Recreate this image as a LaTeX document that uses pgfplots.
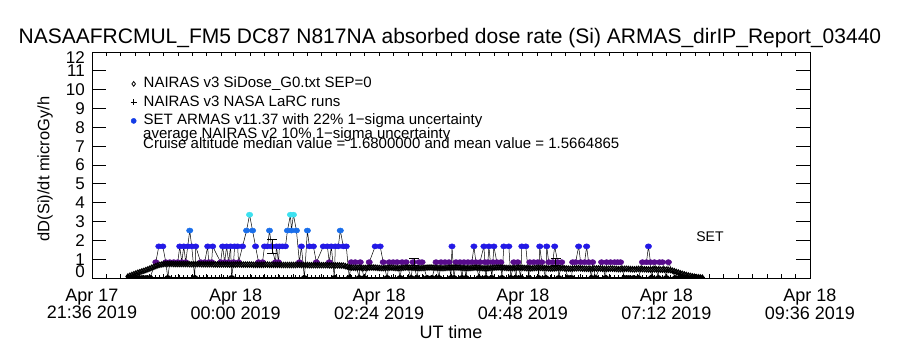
\documentclass[border=0pt]{standalone}
\usepackage{fontspec}
\setmainfont{Liberation Sans}
\usepackage{pgfplots}
\usepackage{pgfplotstable}
\pgfplotsset{compat=1.18}
\definecolor{armasP}{RGB}{88,12,140}
\definecolor{armasB}{RGB}{35,25,230}
\definecolor{armasA}{RGB}{25,110,235}
\definecolor{armasC}{RGB}{60,225,240}
\definecolor{legblue}{RGB}{20,60,230}
\newcommand{\titlefont}{\fontsize{21}{24}\selectfont}
\newcommand{\labfont}{\fontsize{18}{16}\selectfont}
\newcommand{\ylabfont}{\fontsize{16.5}{16}\selectfont}
\newcommand{\ytfont}{\fontsize{17}{17}\selectfont}
\newcommand{\legfont}{\fontsize{15}{16}\selectfont}

% ARMAS dose rate: t = minutes since Apr 17 21:36 UT, v = microGy/h, c = colour class
\pgfplotstableread{
t v c
38 0 z
42 0 z
46 0 z
50 0 z
54 0 z
58 0 z
64 0.84 p
67 1.68 b
71 1.68 b
74 0.84 p
76 0 z
78 0.84 p
82 0.84 p
86 0.84 p
88 1.68 b
90 0.84 p
92 1.68 b
94 0.84 p
96 1.68 b
98 2.52 a
100 1.68 b
103 0 z
104 1.68 b
109 0.84 p
113 0.84 p
116 1.68 b
117 0.84 p
120 0.84 p
121 1.68 b
129 0.84 p
131 1.68 b
133 0.84 p
135 1.68 b
137 0.84 p
139 1.68 b
140 0 z
142 0.84 p
143 1.68 b
146 1.68 b
147 0.84 p
151 1.68 b
155 2.52 a
158 3.36 c
161 2.52 a
164 1.68 b
167 0.84 p
171 0.84 p
173 1.68 b
176 1.68 b
178 2.52 a
180 1.68 b
184 0.84 p
185 1.68 b
187 0.84 p
188 1.68 b
191 1.68 b
194 1.68 b
196 2.52 a
199 3.36 c
200 2.52 a
202 3.36 c
205 2.52 a
208 0.84 p
210 1.68 b
213 0 z
216 2.52 a
218 1.68 b
222 1.68 b
225 0.84 p
232 1.68 b
236 1.68 b
238 0.84 p
240 1.68 b
243 0 z
244 1.68 b
247 1.68 b
249 2.52 a
252 1.68 b
255 1.68 b
258 0 z
260 0.84 p
264 0.84 p
268 0 z
269 0.84 p
273 0 z
278 0.84 p
284 1.68 b
289 1.68 b
292 0.84 p
296 0 z
298 0.84 p
302 0.84 p
306 0.84 p
309 0 z
311 0.84 p
315 0.84 p
320 0 z
322 0.84 p
326 0 z
328 0.84 p
331 0.84 p
336 0 z
341 0 z
345 0.84 p
348 0 z
350 0.84 p
354 0.84 p
358 0.84 p
360 0 z
361 1.68 b
363 0 z
365 0.84 p
369 0.84 p
371 0 z
373 0.84 p
375 0 z
377 0.84 p
381 0.84 p
383 1.68 b
385 0.84 p
388 0 z
389 0.84 p
393 1.68 b
394 0.84 p
395 0 z
397 0.84 p
398 1.68 b
401 0 z
402 0.84 p
403 1.68 b
406 0.84 p
410 0.84 p
411 0 z
413 1.68 b
418 1.68 b
420 0 z
423 0.84 p
425 0 z
427 0.84 p
430 0 z
431 1.68 b
435 1.68 b
438 0 z
439 0.84 p
443 0.84 p
447 0.84 p
448 0 z
449 1.68 b
451 0.84 p
455 0 z
456 1.68 b
458 0.84 p
462 0.84 p
464 1.68 b
467 0.84 p
468 0 z
471 0.84 p
478 0 z
481 0 z
482 0.84 p
485 0.84 p
488 1.68 b
490 0.84 p
494 0.84 p
496 1.68 b
498 0.84 p
501 0 z
502 0.84 p
505 0 z
511 0.84 p
515 0 z
516 0.84 p
520 0.84 p
524 0.84 p
527 0.84 p
530 0.84 p
534 0 z
538 0 z
543 0 z
548 0 z
552 0.84 p
556 0.84 p
558 1.68 b
560 0.84 p
561 0 z
564 0.84 p
568 0 z
569 0.84 p
572 0.84 p
576 0 z
578 0.84 p
585 0 z
589 0 z
593 0 z
597 0 z
601 0 z
605 0 z
609 0 z
}\armas

% NAIRAS v3 SiDose G0 model along the flight
\pgfplotstableread{
t v
36 0.08
38 0.12
40 0.16
42 0.20
44 0.24
46 0.28
48 0.31
50 0.35
52 0.38
54 0.42
56 0.46
58 0.50
60 0.55
62 0.59
64 0.63
66 0.67
68 0.70
70 0.72
72 0.74
74 0.75
76 0.75
78 0.75
80 0.75
82 0.74
84 0.74
86 0.74
88 0.74
90 0.74
92 0.74
94 0.74
96 0.74
98 0.73
100 0.73
102 0.73
104 0.73
106 0.74
108 0.74
110 0.73
112 0.73
114 0.73
116 0.73
118 0.73
120 0.73
122 0.72
124 0.72
126 0.72
128 0.72
130 0.72
132 0.72
134 0.72
136 0.72
138 0.71
140 0.71
142 0.71
144 0.71
146 0.72
148 0.72
150 0.71
152 0.71
154 0.71
156 0.71
158 0.71
160 0.71
162 0.70
164 0.70
166 0.70
168 0.70
170 0.70
172 0.70
174 0.71
176 0.71
178 0.70
180 0.70
182 0.70
184 0.70
186 0.70
188 0.70
190 0.69
192 0.69
194 0.69
196 0.69
198 0.69
200 0.69
202 0.69
204 0.69
206 0.70
208 0.70
210 0.69
212 0.69
214 0.69
216 0.69
218 0.68
220 0.68
222 0.68
224 0.68
226 0.68
228 0.68
230 0.68
232 0.68
234 0.68
236 0.68
238 0.67
240 0.67
242 0.67
244 0.67
246 0.67
248 0.67
250 0.66
252 0.66
254 0.63
256 0.60
258 0.57
260 0.55
262 0.545
264 0.54
266 0.54
268 0.55
270 0.54
272 0.53
274 0.535
276 0.54
278 0.55
280 0.56
282 0.555
284 0.55
286 0.54
288 0.53
290 0.525
292 0.52
294 0.53
296 0.54
298 0.545
300 0.55
302 0.54
304 0.53
306 0.525
308 0.52
310 0.53
312 0.54
314 0.55
316 0.56
318 0.555
320 0.55
322 0.54
324 0.53
326 0.525
328 0.52
330 0.525
332 0.53
334 0.54
336 0.55
338 0.555
340 0.56
342 0.55
344 0.54
346 0.535
348 0.53
350 0.525
352 0.52
354 0.53
356 0.54
358 0.545
360 0.55
362 0.555
364 0.56
366 0.555
368 0.55
370 0.54
372 0.53
374 0.525
376 0.52
378 0.525
380 0.53
382 0.54
384 0.55
386 0.545
388 0.54
390 0.53
392 0.52
394 0.515
396 0.51
398 0.52
400 0.53
402 0.54
404 0.55
406 0.555
408 0.56
410 0.555
412 0.55
414 0.54
416 0.53
418 0.525
420 0.52
422 0.525
424 0.53
426 0.54
428 0.55
430 0.545
432 0.54
434 0.53
436 0.52
438 0.515
440 0.51
442 0.52
444 0.53
446 0.535
448 0.54
450 0.535
452 0.53
454 0.525
456 0.52
458 0.51
460 0.50
462 0.505
464 0.51
466 0.52
468 0.53
470 0.525
472 0.52
474 0.51
476 0.50
478 0.495
480 0.49
482 0.50
484 0.51
486 0.515
488 0.52
490 0.51
492 0.50
494 0.495
496 0.49
498 0.485
500 0.48
502 0.49
504 0.50
506 0.505
508 0.51
510 0.50
512 0.49
514 0.485
516 0.48
518 0.49
520 0.50
522 0.495
524 0.49
526 0.48
528 0.47
530 0.475
532 0.48
534 0.485
536 0.49
538 0.48
540 0.47
542 0.465
544 0.46
546 0.47
548 0.48
550 0.475
552 0.47
554 0.465
556 0.46
558 0.455
560 0.45
562 0.455
564 0.46
566 0.455
568 0.45
570 0.445
572 0.44
574 0.44
576 0.44
578 0.43
580 0.42
582 0.39
584 0.36
586 0.32
588 0.29
590 0.25
592 0.22
594 0.19
596 0.16
598 0.13
600 0.11
602 0.09
604 0.07
606 0.05
608 0.04
610 0.03
612 0.02
}\nairas

% NAIRAS v3 NASA LaRC runs (zero along the flight)
\pgfplotstableread{
t v
36 0.03
40 0.03
44 0.03
48 0.03
52 0.03
56 0.03
60 0.03
64 0.03
68 0.03
72 0.03
76 0.03
80 0.03
84 0.03
88 0.03
92 0.03
96 0.03
100 0.03
104 0.03
108 0.03
112 0.03
116 0.03
120 0.03
124 0.03
128 0.03
132 0.03
136 0.03
140 0.03
144 0.03
148 0.03
152 0.03
156 0.03
160 0.03
164 0.03
168 0.03
172 0.03
176 0.03
180 0.03
184 0.03
188 0.03
192 0.03
196 0.03
200 0.03
204 0.03
208 0.03
212 0.03
216 0.03
220 0.03
224 0.03
228 0.03
232 0.03
236 0.03
240 0.03
244 0.03
248 0.03
252 0.03
256 0.03
260 0.03
264 0.03
268 0.03
272 0.03
276 0.03
280 0.03
284 0.03
288 0.03
292 0.03
296 0.03
300 0.03
304 0.03
308 0.03
312 0.03
316 0.03
320 0.03
324 0.03
328 0.03
332 0.03
336 0.03
340 0.03
344 0.03
348 0.03
352 0.03
356 0.03
360 0.03
364 0.03
368 0.03
372 0.03
376 0.03
380 0.03
384 0.03
388 0.03
392 0.03
396 0.03
400 0.03
404 0.03
408 0.03
412 0.03
416 0.03
420 0.03
424 0.03
428 0.03
432 0.03
436 0.03
440 0.03
444 0.03
448 0.03
452 0.03
456 0.03
460 0.03
464 0.03
468 0.03
472 0.03
476 0.03
480 0.03
484 0.03
488 0.03
492 0.03
496 0.03
500 0.03
504 0.03
508 0.03
512 0.03
516 0.03
520 0.03
524 0.03
528 0.03
532 0.03
536 0.03
540 0.03
544 0.03
548 0.03
552 0.03
556 0.03
560 0.03
564 0.03
568 0.03
572 0.03
576 0.03
580 0.03
584 0.03
588 0.03
592 0.03
596 0.03
600 0.03
604 0.03
608 0.03
612 0.03
}\larc

\pgfplotsset{
  frameaxis/.style={
    at={(92pt,72pt)}, anchor=south west,
    width=718pt, height=226pt, scale only axis,
    xmin=0, xmax=720, ymin=0, ymax=12,
    axis line style={line width=0.8pt, black},
    tick style={line width=0.8pt, black},
  }
}

\begin{document}
\begin{tikzpicture}[x=1pt,y=1pt]
\path[use as bounding box] (0,0) rectangle (900,350);
% y ticks (long) on a frame-only axis
\begin{axis}[frameaxis,
  xtick=\empty,
  major tick length=14pt,
  ytick={0,1,2,3,4,5,6,7,8,9,10,11,12},
  yticklabels={,1,2,3,4,5,6,7,8,9,10,11,},
  yticklabel style={font=\ytfont, inner sep=0pt, xshift=-7pt},
]
\end{axis}
% data axis with short x ticks
\begin{axis}[frameaxis,
  ytick=\empty,
  xtick={0,144,288,432,576,720},
  xticklabels={{Apr 17\\21:36 2019},{Apr 18\\00:00 2019},{Apr 18\\02:24 2019},{Apr 18\\04:48 2019},{Apr 18\\07:12 2019},{Apr 18\\09:36 2019}},
  minor x tick num=9,
  major tick length=4pt,
  minor tick length=4pt,
  xticklabel style={align=center, font=\labfont, inner sep=0pt, yshift=-11pt},
  clip marker paths=true,
  legend style={at={(0.0536,0.894)}, anchor=north west, draw=none, fill=none,
    inner sep=0pt, row sep=3pt, column sep=6pt, font=\legfont,
    nodes={inner sep=1pt, text height=10.5pt, text depth=3pt}},
  legend cell align=left,
  legend image code/.code={\draw[#1] plot coordinates {(0pt,0pt)};},
]
% ARMAS connecting line
\addplot[black, line width=0.5pt, mark=none, forget plot] table[x=t, y=v] {\armas};
% ARMAS coloured points
\addplot[scatter, only marks, scatter src=explicit symbolic, mark=*, forget plot,
  mark options={xscale=1.25},
  scatter/classes={
    z={mark=*, mark size=2.6pt, draw=black, fill=black},
    p={mark=*, mark size=2.6pt, draw=armasP, fill=armasP},
    b={mark=*, mark size=2.6pt, draw=armasB, fill=armasB},
    a={mark=*, mark size=2.6pt, draw=armasA, fill=armasA},
    c={mark=*, mark size=2.6pt, draw=armasC, fill=armasC}}]
  table[x=t, y=v, meta=c] {\armas};
% NAIRAS diamonds
\addplot[only marks, mark=diamond, mark size=2.6pt, black, line width=1.1pt, forget plot] table[x=t, y=v] {\nairas};
% LaRC plus
\addplot[only marks, mark=+, mark size=2.4pt, black, line width=1pt, forget plot] table[x=t, y=v] {\larc};
% ARMAS 22% uncertainty bars
\addplot[draw=none, mark=none, forget plot,
  error bars/.cd, y dir=both, y explicit,
  error bar style={draw=black, line width=0.8pt},
  error mark options={rotate=90, black, mark size=5pt, line width=0.8pt}]
  coordinates {(181,1.68) +- (0,0.37) (323,0.84) +- (0,0.185) (465,0.84) +- (0,0.185)};
\addlegendimage{only marks, mark=diamond, mark size=2.4pt, black, line width=0.8pt}
\addlegendentry{NAIRAS v3 SiDose\_G0.txt SEP=0}
\addlegendimage{only marks, mark=+, mark size=3pt, black, line width=0.9pt}
\addlegendentry{NAIRAS v3 NASA LaRC runs}
\addlegendimage{only marks, mark=*, mark size=2.6pt, draw=legblue, fill=legblue}
\addlegendentry{SET ARMAS v11.37 with 22\% 1−sigma uncertainty}
\end{axis}
\node[font=\titlefont] at (450,312) {NASAAFRCMUL\_FM5 DC87 N817NA absorbed dose rate (Si) ARMAS\_dirIP\_Report\_03440};
\node[font=\ylabfont, rotate=90] at (45,181) {dD(Si)/dt microGy/h};
\node[font=\labfont] at (451,18) {UT time};
\node[font=\ytfont, anchor=east, inner sep=0pt] at (85,78) {0};
\node[font=\ytfont, anchor=east, inner sep=0pt] at (85,292) {12};
\node[font=\legfont, anchor=west, inner sep=0pt] at (143,215) {average NAIRAS v2 10\% 1−sigma uncertainty};
\node[font=\legfont, anchor=west, inner sep=0pt] at (143,207) {Cruise altitude median value = 1.6800000 and mean value = 1.5664865};
\node[font=\fontsize{14}{14}\selectfont] at (710,113) {SET};
\end{tikzpicture}
\end{document}
